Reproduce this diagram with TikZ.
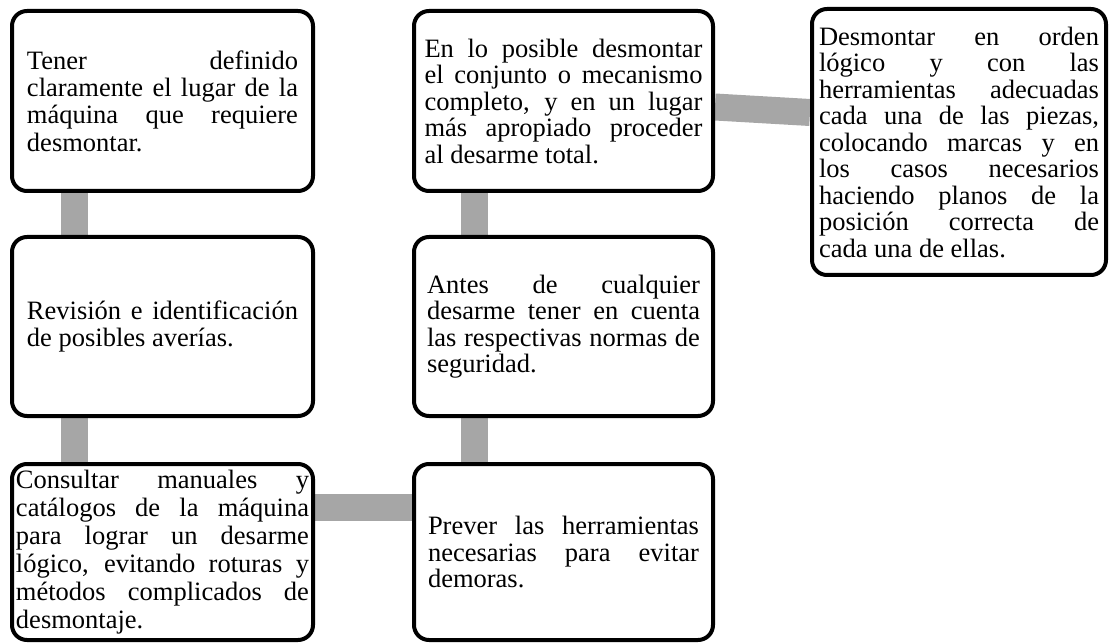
\documentclass[tikz,border=0pt]{standalone}
\usepackage{fontspec}
\setmainfont{Liberation Serif}
\usetikzlibrary{backgrounds}
\definecolor{barra}{RGB}{166,166,166}
\newcommand{\letracaja}[1][26.5]{\fontsize{26.5}{#1}\selectfont\hyphenpenalty=10000\relax}

\tikzset{
  paso/.style={draw=black, line width=4pt, rounded corners=15pt, fill=white,
    align=justify, inner sep=0pt, font=\letracaja},
  enlace/.style={draw=barra, line width=27pt}
}

\begin{document}
\begin{tikzpicture}[x=1pt,y=-1pt]
\useasboundingbox (0,0) rectangle (1109,644);
% columna izquierda
\node[paso, font={\letracaja[27.3]}, minimum width=301pt, minimum height=180pt, text width=271pt] (tener) at (162.5,101)
  {Tener definido\linebreak claramente el lugar de la\linebreak máquina que requiere\linebreak desmontar.};
\node[paso, minimum width=301pt, minimum height=179pt, text width=271pt] (revision) at (162.5,326.5)
  {Revisión e identificación\linebreak de posibles averías.};
\node[paso, font={\letracaja[28]}, minimum width=301pt, minimum height=176pt, text width=293pt] (consultar) at (162.5,552)
  {Consultar manuales y\linebreak catálogos de la máquina\linebreak para lograr un desarme\linebreak lógico, evitando roturas y\linebreak métodos complicados de\linebreak desmontaje.};
% columna central
\node[paso, minimum width=299pt, minimum height=176pt, text width=271pt] (prever) at (563.5,552)
  {Prever las herramientas\linebreak necesarias para evitar\linebreak demoras.};
\node[paso, minimum width=299pt, minimum height=179pt, text width=273pt] (antes) at (563.5,326.5)
  {Antes de cualquier\linebreak desarme tener en cuenta\linebreak las respectivas normas de\linebreak seguridad.};
\node[paso, minimum width=299pt, minimum height=180pt, text width=278pt] (posible) at (563.5,101)
  {En lo posible desmontar\linebreak el conjunto o mecanismo\linebreak completo, y en un lugar\linebreak más apropiado proceder\linebreak al desarme total.};
% columna derecha
\node[paso, minimum width=294pt, minimum height=266pt, text width=280pt] (desmontar) at (959,142)
  {Desmontar en orden\linebreak lógico y con las\linebreak herramientas adecuadas\linebreak cada una de las piezas,\linebreak colocando marcas y en\linebreak los casos necesarios\linebreak haciendo planos de la\linebreak posición correcta de\linebreak cada una de ellas.};

\begin{scope}[on background layer]
\draw[enlace] ([xshift=64pt]tener.south west) -- ([xshift=64pt]revision.north west);
\draw[enlace] ([xshift=64pt]revision.south west) -- ([xshift=64pt]consultar.north west);
\draw[enlace] ([yshift=44.5pt]consultar.east) -- ([yshift=44.5pt]prever.west);
\draw[enlace] ([xshift=62pt]prever.north west) -- ([xshift=62pt]antes.south west);
\draw[enlace] ([xshift=62pt]antes.north west) -- ([xshift=62pt]posible.south west);
\draw[enlace] ([yshift=-6pt]posible.east) -- ([yshift=29.5pt]desmontar.west);
\end{scope}
\end{tikzpicture}
\end{document}
